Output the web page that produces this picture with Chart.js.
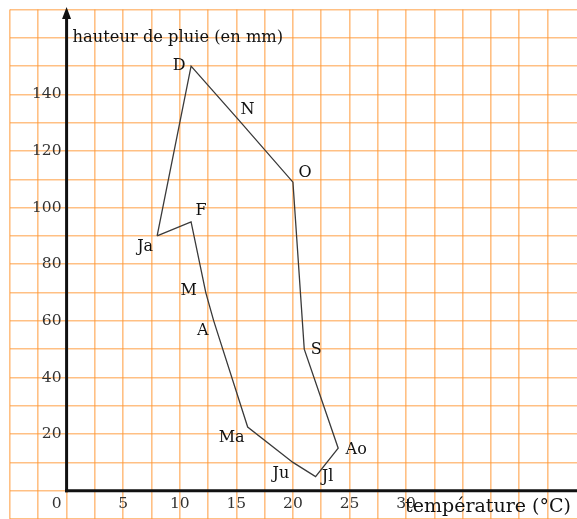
<!DOCTYPE html>
<html>
<head>
<meta charset="utf-8">
<script src="https://cdn.jsdelivr.net/npm/chart.js@4.4.0/dist/chart.umd.min.js"></script>
<style>
  html, body { margin: 0; padding: 0; background: #ffffff; }
  #wrap { position: relative; width: 577px; height: 519px; }
</style>
</head>
<body>
<div id="wrap"><canvas id="c" width="577" height="519"></canvas></div>
<script>
// ---- data ----
const monthLabels = ['Ja', 'F', 'M', 'A', 'Ma', 'Ju', 'Jl', 'Ao', 'S', 'O', 'N', 'D'];
const temperatures = [8, 11, 12.3, 13, 16, 20, 22, 24, 21, 20, 15.2, 11];      // °C
const rainfall     = [90, 95, 70, 60, 22.5, 10, 5, 15, 50, 109, 131, 150];     // mm
const xTickLabels = [5, 10, 15, 20, 25, 30];
const yTickLabels = [20, 40, 60, 80, 100, 120, 140];
const yAxisTitle = 'hauteur de pluie (en mm)';
const xAxisTitle = 'température (°C)';

// label offsets (pixels) for each month name relative to its point
const labelOffsets = {
  Ja: [-12, 11], F: [10, -11], M: [-17, -2], A: [-11, 10], Ma: [-16, 11], Ju: [-12, 11],
  Jl: [12, 0], Ao: [18, 2], S: [12, 1], O: [12, -9], N: [9, -10], D: [-12, 0]
};

const points = temperatures.map((t, i) => ({ x: t, y: rainfall[i] }));
points.push(points[0]); // close the climogram loop

const FONT = '"DejaVu Serif", serif';

const decorPlugin = {
  id: 'decor',
  afterDatasetsDraw(chart) {
    const ctx = chart.ctx;
    const xs = chart.scales.x, ys = chart.scales.y;
    const x0 = xs.getPixelForValue(0), y0 = ys.getPixelForValue(0);
    ctx.save();
    // axes
    ctx.strokeStyle = '#111';
    ctx.fillStyle = '#111';
    ctx.lineWidth = 3;
    ctx.beginPath();
    ctx.moveTo(x0, y0 + 1.5);
    ctx.lineTo(x0, 16);
    ctx.stroke();
    ctx.beginPath();
    ctx.moveTo(x0 - 1.5, y0);
    ctx.lineTo(chart.width, y0);
    ctx.stroke();
    // arrow head on y axis
    ctx.beginPath();
    ctx.moveTo(x0, 7);
    ctx.lineTo(x0 - 4.5, 19);
    ctx.lineTo(x0 + 4.5, 19);
    ctx.closePath();
    ctx.fill();

    // tick labels
    ctx.font = '15.5px ' + FONT;
    ctx.fillStyle = '#333';
    ctx.textBaseline = 'middle';
    ctx.textAlign = 'center';
    xTickLabels.forEach(v => ctx.fillText(String(v), xs.getPixelForValue(v), y0 + 13));
    ctx.fillText('0', x0 - 10, y0 + 13);
    ctx.textAlign = 'right';
    yTickLabels.forEach(v => ctx.fillText(String(v), x0 - 5, ys.getPixelForValue(v)));

    // axis titles
    ctx.fillStyle = '#111';
    ctx.font = '16.3px ' + FONT;
    ctx.textAlign = 'left';
    ctx.fillText(yAxisTitle, x0 + 6, ys.getPixelForValue(160) - 0.5);
    ctx.font = '19px ' + FONT;
    ctx.fillText(xAxisTitle, xs.getPixelForValue(30) - 1, y0 + 16);

    // month labels
    ctx.font = '16px ' + FONT;
    ctx.textAlign = 'center';
    monthLabels.forEach((m, i) => {
      const px = xs.getPixelForValue(temperatures[i]);
      const py = ys.getPixelForValue(rainfall[i]);
      const off = labelOffsets[m];
      ctx.fillText(m, px + off[0], py + off[1]);
    });
    ctx.restore();
  }
};

new Chart(document.getElementById('c'), {
  type: 'line',
  data: {
    datasets: [{
      data: points,
      showLine: true,
      borderColor: '#3a3a3a',
      borderWidth: 1.3,
      pointRadius: 0,
      tension: 0,
      fill: false
    }]
  },
  options: {
    responsive: false,
    animation: false,
    devicePixelRatio: 1,
    layout: { padding: { left: 10, top: 9.5, right: 0, bottom: 0 } },
    plugins: { legend: { display: false }, tooltip: { enabled: false } },
    scales: {
      x: {
        type: 'linear', min: -5, max: 45.1,
        ticks: { display: false, stepSize: 2.5 },
        afterBuildTicks: s => { s.ticks = s.ticks.filter(t => t.value <= 42.5 + 1e-9); },
        grid: { color: 'rgba(255,150,50,0.6)', lineWidth: 1.6, drawTicks: false },
        border: { display: false }
      },
      y: {
        type: 'linear', min: -10, max: 170,
        ticks: { display: false, stepSize: 10 },
        grid: { color: 'rgba(255,150,50,0.6)', lineWidth: 1.6, drawTicks: false },
        border: { display: false }
      }
    }
  },
  plugins: [decorPlugin]
});
</script>
</body>
</html>
